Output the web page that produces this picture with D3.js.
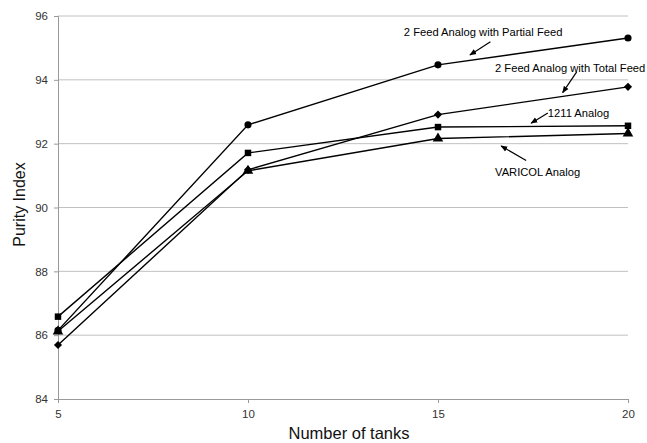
<!DOCTYPE html>
<html>
<head>
<meta charset="utf-8">
<script src="https://cdn.jsdelivr.net/npm/d3@7"></script>
<style>
	body { margin: 0; background: #fff; }
	text { font-family: "Liberation Sans", Arial, sans-serif; }
</style>
</head>
<body>
<svg id="chart" width="647" height="443"></svg>
<script>
// 데이터
var tanks = [5, 10, 15, 20];
var yTicks = [84, 86, 88, 90, 92, 94, 96];

var partialFeed = [86.15, 92.59, 94.47, 95.31];
var totalFeed = [85.69, 91.18, 92.91, 93.78];
var analog1211 = [86.58, 91.71, 92.52, 92.56];
var varicol = [86.12, 91.15, 92.16, 92.32];

var seriesNames = ["2 Feed Analog with Partial Feed", "2 Feed Analog with Total Feed", "1211 Analog", "VARICOL Analog"];
var seriesValues = [partialFeed, totalFeed, analog1211, varicol];
var seriesSymbols = [d3.symbolCircle, d3.symbolDiamond2, d3.symbolSquare, d3.symbolTriangle];

// 주석 (텍스트 시작점과 화살표: 데이터 좌표)
var labelPos = [[14.1, 95.5], [16.5, 94.37], [17.89, 92.96], [16.5, 91.11]];
var arrowFrom = [[16.38, 95.19], [18.65, 94.25], [17.89, 92.96], [17.32, 91.47]];
var arrowTo = [[15.84, 94.78], [18.28, 93.6], [17.45, 92.64], [16.66, 91.93]];

var svg = d3.select("#chart");
var margin = { top: 16, right: 19, bottom: 44, left: 58 };
var width = 647 - margin.left - margin.right;
var height = 443 - margin.top - margin.bottom;

var x = d3.scaleLinear().domain([5, 20]).range([0, width]);
var y = d3.scaleLinear().domain([84, 96]).range([height, 0]);

var g = svg.append("g").attr("transform", `translate(${margin.left},${margin.top})`);

// 그리드
g.selectAll(".grid")
	.data(yTicks.slice(1))
	.enter().append("line")
	.attr("x1", 0).attr("x2", width)
	.attr("y1", d => y(d)).attr("y2", d => y(d))
	.style("stroke", "#c0c0c0")
	.style("stroke-width", 1);

// Y축
var yAxis = g.append("g")
	.call(d3.axisLeft(y).tickValues(yTicks).tickSize(4).tickPadding(6).tickFormat(d3.format("d")));
yAxis.select(".domain").style("stroke", "#999");
yAxis.selectAll(".tick line").style("stroke", "#999");
yAxis.selectAll("text").style("font-size", "11.5px").style("fill", "#333");

// X축
var xAxis = g.append("g")
	.attr("transform", `translate(0,${height})`)
	.call(d3.axisBottom(x).tickValues(tanks).tickSize(4).tickPadding(7).tickSizeOuter(0));
xAxis.select(".domain").style("stroke", "#999");
xAxis.selectAll(".tick line").style("stroke", "#999");
xAxis.selectAll("text").style("font-size", "11.5px").style("fill", "#333");

// 축 제목
svg.append("text")
	.attr("x", margin.left + width / 2 + 6)
	.attr("y", 439)
	.attr("text-anchor", "middle")
	.style("font-size", "16.5px")
	.style("fill", "#111")
	.text("Number of tanks");

svg.append("text")
	.attr("transform", `translate(25,${margin.top + height / 2 - 3}) rotate(-90)`)
	.attr("text-anchor", "middle")
	.style("font-size", "16px")
	.style("fill", "#111")
	.text("Purity Index");

// 선과 마커
var line = d3.line()
	.x((d, i) => x(tanks[i]))
	.y(d => y(d));

var sizes = [40, 42, 42, 48];
seriesValues.forEach(function(vals, s) {
	g.append("path")
		.datum(vals)
		.attr("d", line)
		.style("fill", "none")
		.style("stroke", "#000")
		.style("stroke-width", 1.4);

	g.selectAll(".m" + s)
		.data(vals)
		.enter().append("path")
		.attr("transform", (d, i) => `translate(${x(tanks[i])},${y(d)})`)
		.attr("d", d3.symbol().type(seriesSymbols[s]).size(sizes[s]))
		.style("fill", "#000");
});

// 화살표 머리
svg.append("defs").append("marker")
	.attr("id", "arrow")
	.attr("viewBox", "0 0 10 10")
	.attr("refX", 9).attr("refY", 5)
	.attr("markerWidth", 7).attr("markerHeight", 7)
	.attr("markerUnits", "userSpaceOnUse")
	.attr("orient", "auto")
	.append("path")
	.attr("d", "M0,1 L10,5 L0,9 Z")
	.style("fill", "#000");

// 주석
seriesNames.forEach(function(name, s) {
	g.append("text")
		.attr("x", x(labelPos[s][0]))
		.attr("y", y(labelPos[s][1]))
		.attr("dy", "0.35em")
		.style("font-size", "11.2px")
		.style("fill", "#000")
		.text(name);

	g.append("line")
		.attr("x1", x(arrowFrom[s][0])).attr("y1", y(arrowFrom[s][1]))
		.attr("x2", x(arrowTo[s][0])).attr("y2", y(arrowTo[s][1]))
		.style("stroke", "#000")
		.style("stroke-width", 1.2)
		.attr("marker-end", "url(#arrow)");
});
</script>
</body>
</html>
